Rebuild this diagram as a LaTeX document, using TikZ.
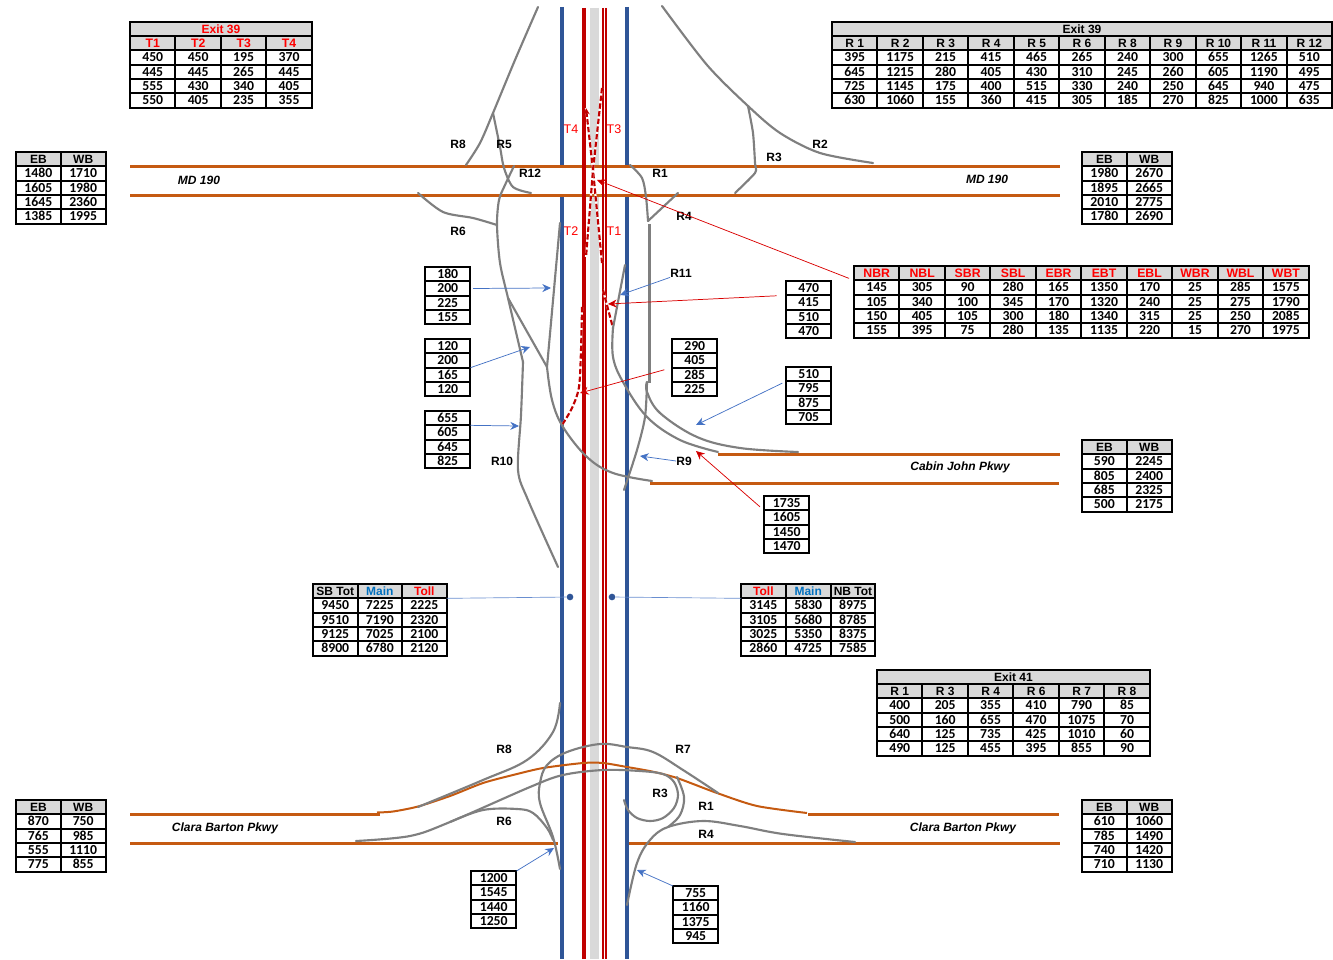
\documentclass[tikz,border=0pt]{standalone}
\usepackage{fontspec}
\setmainfont{Liberation Sans}
\newfontfamily\numfont{Carlito}
\usetikzlibrary{matrix,arrows.meta}
\definecolor{hdr}{HTML}{D9D9D9}
\definecolor{blueroad}{HTML}{2F5597}
\definecolor{redroad}{HTML}{C00000}
\definecolor{orangeroad}{HTML}{C55A11}
\definecolor{ramp}{HTML}{7F7F7F}
\definecolor{lnk}{HTML}{4472C4}
\definecolor{mainblue}{HTML}{0070C0}
\tikzset{
  tbl/.style={matrix of nodes,ampersand replacement=\&,anchor=north west,inner sep=0pt,outer sep=0pt,
    row sep=-1.5pt,column sep=-1.5pt,xshift=-.75pt,yshift=.75pt,
    nodes={draw=black,line width=1.5pt,minimum height=10.75pt,minimum width=#1,inner sep=0pt,outer sep=0pt,
      text height=6.6pt,text depth=0pt,font=\numfont\bfseries\fontsize{10.3}{11}\selectfont}},
  tbl/.default=34.1pt,
  headed/.style={row 1/.style={nodes={fill=hdr,font=\bfseries\fontsize{9}{10}\selectfont}}},
  headedred/.style={row 1/.style={nodes={fill=hdr,text=red,font=\bfseries\fontsize{9.2}{10}\selectfont}}},
  titlebar/.style={draw=black,line width=1.5pt,fill=hdr,anchor=north west,inner sep=0pt,outer sep=0pt,
    minimum height=10.75pt,text height=6.4pt,text depth=0pt,font=\bfseries\fontsize{9}{10}\selectfont},
  lab/.style={font=\bfseries\fontsize{9}{10}\selectfont,inner sep=0pt},
  roadlab/.style={font=\bfseries\itshape\fontsize{9}{10}\selectfont,inner sep=0pt},
  tlab/.style={text=red,font=\fontsize{9.4}{10}\selectfont,inner sep=0pt},
  bluerd/.style={draw=blueroad,line width=3pt},
  redrd/.style={draw=redroad,line width=3pt},
  redthin/.style={draw=redroad,line width=1.5pt},
  band/.style={draw=hdr,line width=6.4pt},
  orange/.style={draw=orangeroad,line width=1.9pt},
  orangec/.style={draw=orangeroad,line width=1.5pt},
  rampline/.style={draw=ramp,line width=1.6pt,line cap=round},
  rampthick/.style={draw=ramp,line width=2.6pt},
  dashw/.style={draw=white,line width=1.6pt},
  dashr/.style={draw=redroad,line width=1.6pt,dash pattern=on 4pt off 1.8pt},
  bluearr/.style={draw=lnk,line width=.55pt,-{Stealth[length=6.5pt,width=6pt]}},
  redarr/.style={draw=red!85!black,line width=.55pt,-{Stealth[length=6.5pt,width=6pt,fill=redroad]}},
  thinlink/.style={draw=lnk!80!white,line width=.5pt},
  dotnode/.style={circle,fill=blueroad,inner sep=0pt,minimum size=5pt},
}
\begin{document}
\begin{tikzpicture}[x=0.75pt,y=-0.75pt]
\useasboundingbox (0,0) rectangle (1333,959);
% main lines
\draw[band] (594.5,8) -- (594.5,166);
\draw[band] (594.5,195) -- (594.5,959);
\draw[bluerd] (562,7) -- (562,165);
\draw[bluerd] (562,196) -- (562,959);
\draw[bluerd] (627,7) -- (627,165);
\draw[bluerd] (627,196) -- (627,959);
% cross roads
\draw[orange] (130,166.5) -- (1060,166.5);
\draw[orange] (130,195.5) -- (1060,195.5);
\draw[orange] (718,454.5) -- (1060,454.5);
\draw[orange] (650,483.5) -- (1059,483.5);
\draw[orange] (130,814.5) -- (380,814.5);
\draw[orange] (808,814.5) -- (1059,814.5);
\draw[orange] (130,843.5) -- (558,843.5);
\draw[orange] (629,843.5) -- (1060,843.5);
% red lines
\draw[redrd] (584,8) -- (584,959);
\draw[redthin] (603,8) -- (603,959);
\draw[redthin] (606.3,8) -- (606.3,959);
% Clara Barton mainline curve
\draw[orangec] plot[smooth,tension=.45] coordinates {(377,812.5) (393,811.5) (418,806.5) (450,796) (483,783) (513,775) (543,768) (583,763) (603,763) (627,767) (652,771.5) (677,778) (717,793) (757,806) (807,813)};
% dashed red
\draw[dashw] (586,108) -- (593,170) -- (602,263);
\draw[dashr,-{Stealth[length=5pt,width=4.5pt]}] (602,263) -- (593,170) -- (586,108);
\draw[dashw] (602,88) -- (593,170) -- (586,257);
\draw[dashr] (602,88) -- (593,170) -- (586,257);
\draw[dashw] plot[smooth,tension=.5] coordinates {(582,307) (581,350) (579,387) (572,408) (562,425)};
\draw[dashr] plot[smooth,tension=.5] coordinates {(582,307) (581,350) (579,387) (572,408) (562,425)};
\draw[dashw] (603,290) -- (613,328);
\draw[dashr] (603,290) -- (613,328);
% ramps, upper interchange
\draw[rampline] plot[smooth,tension=.5] coordinates {(538,7) (515,60) (493,113) (480,143) (466,165)};
\draw[rampline] plot[smooth,tension=.5] coordinates {(493,113) (500,147) (504,168) (513,187) (531,193)};
\draw[rampline] plot[smooth,tension=.5] coordinates {(514,166) (505,185) (499,200) (497,225) (500,263) (508,298) (523,362)};
\draw[rampline] plot[smooth,tension=.5] coordinates {(523,362) (521,415) (518,470) (528,500) (558,567)};
\draw[rampline] (508,298) -- (547,367);
\draw[rampline] (560,223) -- (547,367);
\draw[rampline] plot[smooth,tension=.6] coordinates {(547,367) (552,400) (563,427) (587,457) (613,473) (652,481)};
\draw[rampline] plot[smooth,tension=.5] coordinates {(418,193) (443,212) (473,218) (497,225)};
\draw[rampline] plot[smooth,tension=.5] coordinates {(630,165) (642,178) (646,197) (648,221)};
\draw[rampline] (648,221) -- (678,193);
\draw[rampthick] (649.5,224) -- (649.5,383);
\draw[rampline] plot[smooth,tension=.6] coordinates {(647,382) (647,392) (660,413) (697,437) (740,448) (798,452)};
\draw[rampline] (625,265) -- (613,328);
\draw[rampline] plot[smooth,tension=.6] coordinates {(613,328) (613,357) (623,382) (647,417) (680,440) (718,452)};
\draw[rampline] plot[smooth,tension=.5] coordinates {(647,382) (645,417) (637,450) (624,490)};
\draw[rampline] plot[smooth,tension=.5] coordinates {(662,6) (707,65) (748,106) (780,133) (820,153) (873,163)};
\draw[rampline] plot[smooth,tension=.4] coordinates {(748,106) (753,133) (755,163) (755,173) (735,193)};
% ramps, lower interchange
\draw[rampline] plot[smooth,tension=.6] coordinates {(560,703) (553,732) (527,760) (483,780) (418,807)};
\draw[rampline] plot[smooth,tension=.6] coordinates {(560,869) (553,837) (540,803) (540,783) (547,765) (567,752) (600,744) (627,747) (653,752) (683,770) (718,793)};
\draw[rampline] plot[smooth,tension=.55] coordinates {(356,841) (410,836) (450,822) (530,787) (563,775) (603,770) (640,771) (663,774) (674,782) (678,795) (674,808) (663,818) (650,821) (637,818) (628,810) (624,800)};
\draw[rampline] plot[smooth,tension=.6] coordinates {(450,822) (483,810) (517,809) (533,813) (547,828) (553,840)};
\draw[rampline] plot[smooth,tension=.6] coordinates {(677,777) (684,797) (680,815) (668,827)};
\draw[rampline] plot[smooth,tension=.6] coordinates {(627,905) (637,863) (650,840) (668,827) (703,821) (740,826) (783,834) (855,842)};
% tables
\node[titlebar,minimum width=136.5pt] (t1title) at (130,22) {\textcolor{red}{Exit 39}};
\matrix[tbl,headedred] (t1) at (130,36) {
T1 \& T2 \& T3 \& T4 \\ 450 \& 450 \& 195 \& 370 \\ 445 \& 445 \& 265 \& 445 \\ 555 \& 430 \& 340 \& 405 \\ 550 \& 405 \& 235 \& 355 \\};
\node[titlebar,minimum width=375pt] (t2title) at (832,22) {Exit 39};
\matrix[tbl,headed] (t2) at (832,36) {
R 1 \& R 2 \& R 3 \& R 4 \& R 5 \& R 6 \& R 8 \& R 9 \& R 10 \& R 11 \& R 12 \\
395 \& 1175 \& 215 \& 415 \& 465 \& 265 \& 240 \& 300 \& 655 \& 1265 \& 510 \\
645 \& 1215 \& 280 \& 405 \& 430 \& 310 \& 245 \& 260 \& 605 \& 1190 \& 495 \\
725 \& 1145 \& 175 \& 400 \& 515 \& 330 \& 240 \& 250 \& 645 \& 940 \& 475 \\
630 \& 1060 \& 155 \& 360 \& 415 \& 305 \& 185 \& 270 \& 825 \& 1000 \& 635 \\};
\matrix[tbl=33.6pt,headed] (t3) at (16,152) {
EB \& WB \\ 1480 \& 1710 \\ 1605 \& 1980 \\ 1645 \& 2360 \\ 1385 \& 1995 \\};
\matrix[tbl=33.6pt,headed] (t4) at (1082,152) {
EB \& WB \\ 1980 \& 2670 \\ 1895 \& 2665 \\ 2010 \& 2775 \\ 1780 \& 2690 \\};
\matrix[tbl] (t5) at (425,267) {180 \\ 200 \\ 225 \\ 155 \\};
\matrix[tbl] (t6) at (425,339) {120 \\ 200 \\ 165 \\ 120 \\};
\matrix[tbl] (t7) at (425,411) {655 \\ 605 \\ 645 \\ 825 \\};
\matrix[tbl] (t8) at (672,339) {290 \\ 405 \\ 285 \\ 225 \\};
\matrix[tbl] (t9) at (786,281) {470 \\ 415 \\ 510 \\ 470 \\};
\matrix[tbl] (t10) at (786,367) {510 \\ 795 \\ 875 \\ 705 \\};
\matrix[tbl,headedred] (t11) at (854,266) {
NBR \& NBL \& SBR \& SBL \& EBR \& EBT \& EBL \& WBR \& WBL \& WBT \\
145 \& 305 \& 90 \& 280 \& 165 \& 1350 \& 170 \& 25 \& 285 \& 1575 \\
105 \& 340 \& 100 \& 345 \& 170 \& 1320 \& 240 \& 25 \& 275 \& 1790 \\
150 \& 405 \& 105 \& 300 \& 180 \& 1340 \& 315 \& 25 \& 250 \& 2085 \\
155 \& 395 \& 75 \& 280 \& 135 \& 1135 \& 220 \& 15 \& 270 \& 1975 \\};
\matrix[tbl=33.6pt,headed] (t12) at (1082,440) {
EB \& WB \\ 590 \& 2245 \\ 805 \& 2400 \\ 685 \& 2325 \\ 500 \& 2175 \\};
\matrix[tbl] (t13) at (764,496) {1735 \\ 1605 \\ 1450 \\ 1470 \\};
\matrix[tbl=33.4pt,headed] (t14) at (313,584) {
SB Tot \& |[text=mainblue]| Main \& |[text=red]| Toll \\
9450 \& 7225 \& 2225 \\ 9510 \& 7190 \& 2320 \\ 9125 \& 7025 \& 2100 \\ 8900 \& 6780 \& 2120 \\};
\matrix[tbl=33.6pt,headed] (t15) at (741,584) {
|[text=red]| Toll \& |[text=mainblue]| Main \& NB Tot \\
3145 \& 5830 \& 8975 \\ 3105 \& 5680 \& 8785 \\ 3025 \& 5350 \& 8375 \\ 2860 \& 4725 \& 7585 \\};
\node[titlebar,minimum width=204.7pt] (t16title) at (877,670) {Exit 41};
\matrix[tbl,headed] (t16) at (877,684) {
R 1 \& R 3 \& R 4 \& R 6 \& R 7 \& R 8 \\
400 \& 205 \& 355 \& 410 \& 790 \& 85 \\
500 \& 160 \& 655 \& 470 \& 1075 \& 70 \\
640 \& 125 \& 735 \& 425 \& 1010 \& 60 \\
490 \& 125 \& 455 \& 395 \& 855 \& 90 \\};
\matrix[tbl=33.6pt,headed] (t17) at (16,800) {
EB \& WB \\ 870 \& 750 \\ 765 \& 985 \\ 555 \& 1110 \\ 775 \& 855 \\};
\matrix[tbl=33.6pt,headed] (t18) at (1082,800) {
EB \& WB \\ 610 \& 1060 \\ 785 \& 1490 \\ 740 \& 1420 \\ 710 \& 1130 \\};
\matrix[tbl] (t19) at (471,871) {1200 \\ 1545 \\ 1440 \\ 1250 \\};
\matrix[tbl] (t20) at (673,886) {755 \\ 1160 \\ 1375 \\ 945 \\};
% labels
\node[lab] (l1) at (458,144) {R8};
\node[lab] (l2) at (504,144) {R5};
\node[lab] (l3) at (774,157) {R3};
\node[lab] (l4) at (820,144) {R2};
\node[lab] (l5) at (530,173) {R12};
\node[lab] (l6) at (660,173) {R1};
\node[lab] (l7) at (684,216) {R4};
\node[lab] (l8) at (458,231) {R6};
\node[lab] (r11) at (681,273) {R11};
\node[lab] (r9) at (684,461) {R9};
\node[lab] (l9) at (502,461) {R10};
\node[lab] (l10) at (504,749) {R8};
\node[lab] (l11) at (683,749) {R7};
\node[lab] (l12) at (660,793) {R3};
\node[lab] (l13) at (706,806) {R1};
\node[lab] (l14) at (504,821) {R6};
\node[lab] (l15) at (706,834) {R4};
\node[tlab] (tt4) at (571,129) {T4};
\node[tlab] (tt3) at (614,129) {T3};
\node[tlab] (tt2) at (571,231) {T2};
\node[tlab] (tt1) at (614,231) {T1};
\node[roadlab] (rd1) at (199,180) {MD 190};
\node[roadlab] (rd2) at (987,179) {MD 190};
\node[roadlab] (rd3) at (960,467) {Cabin John Pkwy};
\node[roadlab] (rd4) at (225,828) {Clara Barton Pkwy};
\node[roadlab] (rd5) at (963,828) {Clara Barton Pkwy};
% arrow targets
\coordinate (a1) at (551,288);
\coordinate (a2) at (530,347);
\coordinate (a3) at (519,426);
\coordinate (a4) at (696,425);
\coordinate (a5) at (620,295);
\coordinate (a6) at (640,456);
\coordinate (a7) at (554,848);
\coordinate (a8) at (637,870);
\coordinate (a9) at (597,180);
\coordinate (a10) at (608,304);
\coordinate (a11) at (580,393);
\coordinate (a12) at (696,451);
\draw[bluearr,shorten <=2pt] (t5-2-1.east) -- (a1);
\draw[bluearr] (t6-3-1.north east) -- (a2);
\draw[bluearr] (t7-1-1.south east) -- (a3);
\draw[bluearr,shorten <=3pt] (t10-1-1.south west) -- (a4);
\draw[bluearr] (r11.south west) -- (a5);
\draw[bluearr] (r9.west) -- (a6);
\draw[bluearr] (t19-1-1.north east) -- (a7);
\draw[bluearr] (t20-1-1.north west) -- (a8);
\draw[redarr,shorten <=4pt] (t11-1-1.south west) -- (a9);
\draw[redarr,shorten <=7pt] (t9-1-1.south west) -- (a10);
\draw[redarr,shorten <=6pt] (t8-2-1.south west) -- (a11);
\draw[redarr,shorten <=4pt] (t13-2-1.north west) -- (a12);
\node[dotnode] (d1) at (570,597) {};
\node[dotnode] (d2) at (612,597) {};
\draw[thinlink] (t14-1-3.south east) -- (d1);
\draw[thinlink] (t15-1-1.south west) -- (d2);
\end{tikzpicture}
\end{document}
